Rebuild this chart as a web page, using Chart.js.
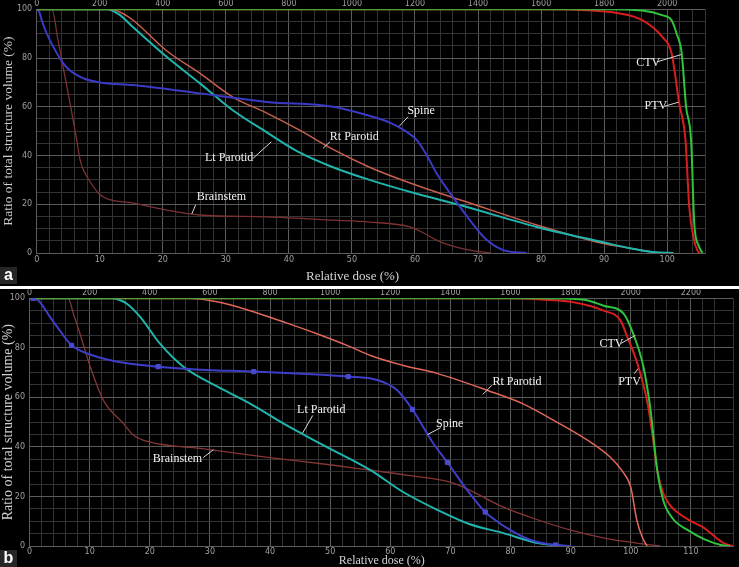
<!DOCTYPE html>
<html>
<head>
<meta charset="utf-8">
<script src="https://cdn.jsdelivr.net/npm/chart.js@4.4.0/dist/chart.umd.min.js"></script>
<style>
body { margin: 0; background: #000; width: 739px; height: 567px; overflow: hidden; position: relative; }
canvas { position: absolute; left: 0; }
#ca { top: 0; }
#cb { top: 289px; }
#sep { position: absolute; left: 0; top: 286px; width: 739px; height: 3px; background: #fff; }
.tag { position: absolute; left: 0; width: 17px; height: 17px; background: #262626; color: #fff;
       font: bold 16px "Liberation Sans", Arial, sans-serif; text-align: center; line-height: 16px; }
</style>
</head>
<body>
<canvas id="ca" width="739" height="286"></canvas>
<div id="sep"></div>
<canvas id="cb" width="739" height="278"></canvas>
<div class="tag" style="top:267px">a</div>
<div class="tag" style="top:550px">b</div>
<script>
// ---- panel a : relative dose (%) vs ratio of structure volume (%)
var ptvA_x    = [0, 80, 88, 92, 96.1, 99.3, 100.7, 101.9, 102.9, 103.5, 104.2, 104.8, 105.2];
var ptvA_y    = [100, 100, 99.5, 98.5, 95.5, 88.5, 82, 61.5, 46.3, 19, 6, 1, 0];
var ctvA_x    = [0, 90, 96, 99.3, 100.7, 101.5, 102.3, 103, 103.8, 104.3, 105, 105.6];
var ctvA_y    = [100, 100, 99.5, 97.5, 95.5, 90, 82, 60, 46, 12, 3, 0];
var rtParA_x  = [0, 11.6, 13.5, 15.3, 20.6, 25.9, 31.1, 36.5, 41.7, 47, 52.8, 60, 68.7, 79.3, 89.7, 94, 97.7, 99];
var rtParA_y  = [100, 100, 98.5, 95.5, 83, 73.7, 64, 57.4, 50.4, 42.5, 35.2, 28, 20.5, 11.5, 4, 2, 0.4, 0];
var ltParA_x  = [0, 11.1, 13, 15.3, 20.6, 25.9, 28.5, 31.1, 36.5, 41.5, 47, 52.8, 60, 67.1, 79.3, 89.7, 94, 97.7, 101];
var ltParA_y  = [100, 100, 98, 92.6, 80.5, 69.6, 64, 58.6, 49.5, 41.5, 35.2, 30, 24.5, 19.7, 10.7, 4.5, 2, 0.4, 0];
var spineA_x  = [0, 0.4, 0.8, 1.6, 3.2, 4.8, 7.4, 10, 15.3, 25.9, 36.5, 47, 52.3, 56, 58.5, 60.3, 62, 63.4, 66, 68.7, 71.4, 74, 77.7];
var spineA_y  = [100, 99, 95.5, 90, 82, 76, 71.7, 70, 68.9, 65.5, 62, 60, 56.6, 53.5, 50, 46.3, 39.5, 32.8, 23, 13.5, 5.3, 1.2, 0];
var brainA_x  = [0, 2.4, 3.4, 4.4, 5.4, 6.3, 6.9, 7.6, 8.4, 9.8, 11.1, 15.3, 20.6, 25.9, 36.5, 47, 52.8, 59.2, 61.5, 63.4, 66, 68.7, 72];
var brainA_y  = [100, 100, 87, 73.5, 60, 47, 38, 33, 29.5, 24.5, 22.3, 20.5, 17.6, 15.6, 14.8, 13.5, 12.7, 10.7, 8, 5.3, 2.8, 1.2, 0];

// ---- panel b
var ptvB_x    = [0, 80, 85, 90, 95.5, 98.3, 99.4, 101.1, 102.8, 103.6, 104.4, 105.4, 106.5, 107.7, 110, 112, 115.4, 117];
var ptvB_y    = [100, 100, 99.5, 98.6, 95, 91, 84.5, 73.6, 57.5, 45, 30.6, 21.3, 16.5, 13.7, 10, 7.6, 1.2, 0];
var ctvB_x    = [0, 85, 92, 95.5, 98.8, 100.4, 102.1, 103.3, 104.4, 105.4, 107, 109.5, 112, 115, 116.5];
var ctvB_y    = [100, 100, 99.5, 97, 93.8, 85.7, 72.4, 54.7, 30.6, 18.5, 11, 6.4, 3, 0.4, 0];
var rtParB_x  = [0, 26.2, 31.2, 36.7, 42.2, 47.8, 53.3, 56.7, 62, 67.9, 76.2, 82, 87.2, 92.8, 96.6, 98.5, 100, 101, 101.9, 102.7];
var rtParB_y  = [100, 100, 98.6, 95, 90.5, 85.7, 80.5, 76.9, 73, 69.6, 62.8, 57.5, 50.7, 42.7, 35.8, 30.5, 23.7, 10.5, 3.6, 0];
var ltParB_x  = [0, 13.7, 15, 16.2, 18.4, 21.7, 25.6, 31.2, 36.7, 42.2, 49, 56.7, 62, 67.9, 73, 78.8, 84.5, 88.9];
var ltParB_y  = [100, 100, 99.3, 97.8, 92.5, 81.7, 72.4, 64.4, 57.5, 49.5, 40.5, 30.6, 22, 14.5, 9, 5.2, 1.2, 0];
var spineB_x  = [0, 0.6, 1.5, 2.3, 3.4, 4.6, 7, 10.6, 14.6, 21.4, 28.4, 37.3, 47, 53, 56.8, 59, 61.2, 63.7, 65, 67, 69.5, 72.8, 75.8, 78, 80, 82, 84.5, 87.5, 90];
var spineB_y  = [100, 100, 99, 96.6, 92.5, 88.5, 81, 76.9, 74.4, 72.4, 71.2, 70.4, 69.3, 68.4, 67.6, 66, 62.8, 55.1, 50, 42, 33.8, 22.5, 13.7, 9.5, 6.4, 3.8, 1.6, 0.4, 0];
var spineMarkB_x = [0.6, 7, 21.4, 37.3, 53, 63.7, 69.5, 75.8, 87.5];
var spineMarkB_y = [100, 81, 72.4, 70.4, 68.4, 55.1, 33.8, 13.7, 0.4];
var brainB_x  = [0, 6.4, 7.4, 8.4, 10.1, 12.3, 15.6, 17.3, 20.1, 28.4, 39.6, 50.6, 56.7, 63, 70.5, 78.8, 84, 90, 96, 101, 104.9];
var brainB_y  = [100, 100, 93, 85.7, 72.4, 58.8, 49.5, 44.7, 41.9, 39.4, 35.8, 32.6, 30.6, 28.5, 25.4, 15.7, 11, 6.4, 3, 1.2, 0];

// tick labels
var yTicks     = [0, 20, 40, 60, 80, 100];
var doseTicksA = [0, 10, 20, 30, 40, 50, 60, 70, 80, 90, 100];
var doseTicksB = [0, 10, 20, 30, 40, 50, 60, 70, 80, 90, 100, 110];
var cgyTicksA  = [0, 200, 400, 600, 800, 1000, 1200, 1400, 1600, 1800, 2000];
var cgyTicksB  = [0, 200, 400, 600, 800, 1000, 1200, 1400, 1600, 1800, 2000, 2200];

function pts(xs, ys) {
  return xs.map(function(x, i) { return { x: x, y: ys[i] }; });
}

function curve(label, xs, ys, color, w) {
  return {
    label: label,
    data: pts(xs, ys),
    borderColor: color,
    borderWidth: w,
    pointRadius: 0,
    fill: false,
    cubicInterpolationMode: 'monotone'
  };
}

// notes + x axis title drawn over the plot
function textPlugin(notes, titleAt, titleGap, titleFont) {
  return {
    id: 'dvhText',
    afterDatasetsDraw: function(chart) {
      var c = chart.ctx, xs = chart.scales.x, ys = chart.scales.y;
      c.save();
      c.font = '12px "Liberation Serif", "DejaVu Serif", serif';
      c.fillStyle = '#f2f2f2';
      c.strokeStyle = '#d8d8d8';
      c.lineWidth = 1;
      c.textBaseline = 'middle';
      notes.forEach(function(n) {
        c.beginPath();
        c.moveTo(xs.getPixelForValue(n.from[0]), ys.getPixelForValue(n.from[1]));
        c.lineTo(xs.getPixelForValue(n.to[0]), ys.getPixelForValue(n.to[1]));
        c.stroke();
        c.fillText(n.text, xs.getPixelForValue(n.x), ys.getPixelForValue(n.y));
      });
      c.font = titleFont;
      c.fillStyle = '#d4d4d4';
      c.textAlign = 'center';
      c.fillText('Relative dose (%)', xs.getPixelForValue(titleAt), chart.chartArea.bottom + titleGap);
      c.restore();
    }
  };
}

var tickFont = { family: 'DejaVu Sans', size: 8 };
var tickColor = '#a0a0a0';

function makeDvh(id, p) {
  var ctx = document.getElementById(id).getContext('2d');
  return new Chart(ctx, {
    type: 'line',
    data: { datasets: p.datasets },
    plugins: [textPlugin(p.notes, p.titleAt, p.titleGap, p.titleFont)],
    options: {
      responsive: false,
      animation: false,
      devicePixelRatio: 1,
      layout: { padding: { left: 0, right: p.padRight, top: 0, bottom: 0 } },
      plugins: { legend: { display: false }, tooltip: { enabled: false } },
      scales: {
        x: {
          type: 'linear', position: 'bottom', min: 0, max: p.xMax,
          afterFit: function(s) { s.height = p.bottomH; },
          ticks: {
            stepSize: 2, autoSkip: false, maxRotation: 0, padding: p.bottomPad,
            color: tickColor, font: tickFont,
            callback: function(v) { return p.doseTicks.indexOf(v) >= 0 ? v : ''; }
          },
          grid: {
            drawTicks: false,
            color: function(c) { return c.tick && c.tick.value % 10 === 0 ? '#5c5c5c' : '#333'; }
          },
          border: { color: '#5c5c5c' }
        },
        x2: {
          type: 'linear', position: 'top', min: 0, max: p.xMax * 20,
          afterFit: function(s) { s.height = p.topH; },
          ticks: {
            stepSize: 200, autoSkip: false, maxRotation: 0, padding: p.topPad,
            color: tickColor, font: tickFont,
            callback: function(v) { return p.cgyTicks.indexOf(v) >= 0 ? v : ''; }
          },
          grid: { display: false, drawTicks: false },
          border: { display: false }
        },
        y: {
          type: 'linear', position: 'left', min: 0, max: 100,
          afterFit: function(s) { s.width = p.leftW; },
          ticks: {
            stepSize: 5, autoSkip: false, padding: 4.5,
            color: tickColor, font: tickFont,
            callback: function(v) { return yTicks.indexOf(v) >= 0 ? v : ''; }
          },
          grid: {
            drawTicks: false,
            color: function(c) { return c.tick && c.tick.value % 20 === 0 ? '#5c5c5c' : '#333'; }
          },
          border: { color: '#5c5c5c' },
          title: {
            display: true, text: 'Ratio of total structure volume (%)', color: '#cfcfcf',
            font: { family: 'Liberation Serif', size: p.yTitleSize }, padding: 0
          }
        }
      }
    }
  });
}

makeDvh('ca', {
  xMax: 106, padRight: 34, leftW: 36.7, topH: 9, bottomH: 33, topPad: 1, bottomPad: 2,
  doseTicks: doseTicksA, cgyTicks: cgyTicksA, yTitleSize: 13.5,
  titleAt: 50.1, titleGap: 24, titleFont: '13px "Liberation Serif", serif',
  datasets: [
    curve('CTV', ctvA_x, ctvA_y, '#2ec43c', 2),
    curve('PTV', ptvA_x, ptvA_y, '#d81e1e', 2),
    curve('Spine', spineA_x, spineA_y, '#3a3ac4', 2),
    curve('Lt Parotid', ltParA_x, ltParA_y, '#1fb5ad', 2),
    curve('Rt Parotid', rtParA_x, rtParA_y, '#c8604e', 1.5),
    curve('Brainstem', brainA_x, brainA_y, '#7c3232', 1.3)
  ],
  notes: [
    { text: 'Spine', x: 58.8, y: 58.2, from: [58.9, 55.9], to: [57.5, 52] },
    { text: 'Rt Parotid', x: 46.5, y: 47.5, from: [46.5, 45.6], to: [45.4, 42.9] },
    { text: 'Lt Parotid', x: 26.7, y: 38.9, from: [34.3, 38.8], to: [37.2, 45.6] },
    { text: 'Brainstem', x: 25.4, y: 23.1, from: [25.2, 19.7], to: [24.6, 16] },
    { text: 'CTV', x: 95.1, y: 78.2, from: [98.35, 78.4], to: [102.2, 81.4] },
    { text: 'PTV', x: 96.4, y: 60.2, from: [99.6, 60.2], to: [101.8, 61.9] }
  ]
});

var spineMarks = {
  label: 'Spine points',
  data: pts(spineMarkB_x, spineMarkB_y),
  showLine: false,
  pointStyle: 'rect',
  pointRadius: 3,
  pointBackgroundColor: '#4a4ad0',
  pointBorderColor: '#4a4ad0'
};

makeDvh('cb', {
  xMax: 117, padRight: 6, leftW: 29.5, topH: 8.7, bottomH: 21, topPad: 0.5, bottomPad: 1,
  doseTicks: doseTicksB, cgyTicks: cgyTicksB, yTitleSize: 14,
  titleAt: 58.6, titleGap: 15, titleFont: '12px "Liberation Serif", serif',
  datasets: [
    spineMarks,
    curve('CTV', ctvB_x, ctvB_y, '#2ec43c', 2),
    curve('PTV', ptvB_x, ptvB_y, '#d81e1e', 2),
    curve('Spine', spineB_x, spineB_y, '#3e3ec8', 2),
    curve('Lt Parotid', ltParB_x, ltParB_y, '#1fb5ad', 2),
    curve('Rt Parotid', rtParB_x, rtParB_y, '#e0685a', 1.5),
    curve('Brainstem', brainB_x, brainB_y, '#863636', 1.3)
  ],
  notes: [
    { text: 'Lt Parotid', x: 44.5, y: 54.8, from: [47.1, 52.7], to: [45.4, 45.5] },
    { text: 'Brainstem', x: 20.5, y: 35.3, from: [28.9, 35.7], to: [30.6, 38.9] },
    { text: 'Rt Parotid', x: 77.0, y: 66.4, from: [76.9, 64.9], to: [75.4, 61.2] },
    { text: 'Spine', x: 67.6, y: 49.5, from: [68.4, 47.8], to: [66.2, 45] },
    { text: 'CTV', x: 94.8, y: 81.7, from: [98.3, 81.7], to: [100.75, 85] },
    { text: 'PTV', x: 97.9, y: 66.4, from: [100.6, 69.6], to: [101.2, 71.6] }
  ]
});
</script>
</body>
</html>
